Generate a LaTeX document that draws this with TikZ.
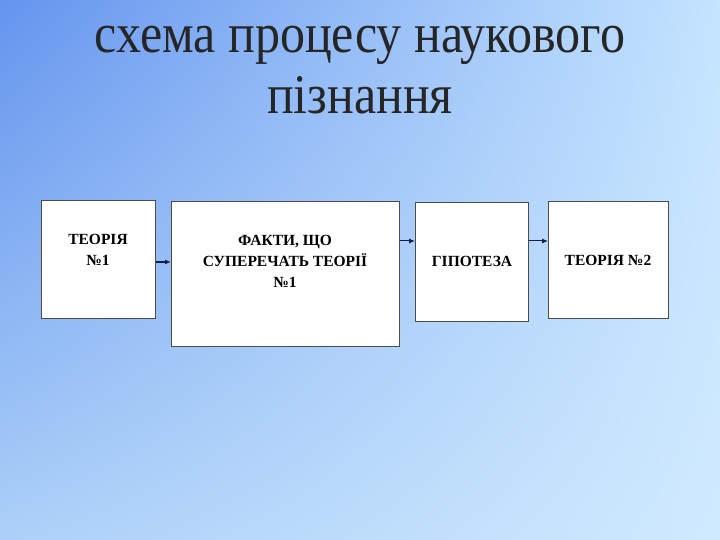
\documentclass[tikz,border=0pt]{standalone}
\usepackage{fontspec}
\setmainfont{Liberation Serif}
\usetikzlibrary{arrows.meta,shadings}
\definecolor{cUL}{RGB}{100,148,238}
\definecolor{cUR}{RGB}{196,228,255}
\definecolor{cLL}{RGB}{172,208,248}
\definecolor{cLR}{RGB}{208,234,255}
\definecolor{arr}{RGB}{20,30,70}
\begin{document}
\begin{tikzpicture}[x=1pt,y=1pt,
  box/.style={draw=black!70,line width=0.6pt,fill=white},
  lbl/.style={font=\bfseries\fontsize{15.5}{21}\selectfont,align=center,text=black},
  conn/.style={-{Latex[length=6pt,width=5pt]},draw=arr,line width=1pt}]
\useasboundingbox (0,0) rectangle (720,540);
\shade[upper left=cUL,upper right=cUR,lower left=cLL,lower right=cLR] (0,0) rectangle (720,540);
\node[font=\fontsize{50}{55}\selectfont,text=black!85,align=center,yscale=1.12] (title) at (360,470) {схема процесу наукового\\пізнання};
\node[box,minimum width=114,minimum height=118,anchor=north west] (b1) at (41,340) {};
\node[box,minimum width=228,minimum height=145,anchor=north west] (b2) at (171,339) {};
\node[box,minimum width=113,minimum height=119,anchor=north west] (b3) at (415,338) {};
\node[box,minimum width=120,minimum height=117,anchor=north west] (b4) at (548,339) {};
\node[lbl] (t1) at (98,290) {ТЕОРІЯ\\№1};
\node[lbl] (t2) at (285,279) {ФАКТИ, ЩО\\СУПЕРЕЧАТЬ ТЕОРІЇ\\№1};
\node[lbl] (t3) at (472,279) {ГІПОТЕЗА};
\node[lbl] (t4) at (608,280) {ТЕОРІЯ №2};
\coordinate (a1) at (155,278); \coordinate (a2) at (171,278);
\draw[conn,line width=1.8pt] (b1.east |- a1) -- (b2.west |- a2);
\draw[conn] (b2.east |- 0,299) -- (b3.west |- 0,299);
\draw[conn] (b3.east |- 0,299) -- (b4.west |- 0,299);
\end{tikzpicture}
\end{document}
